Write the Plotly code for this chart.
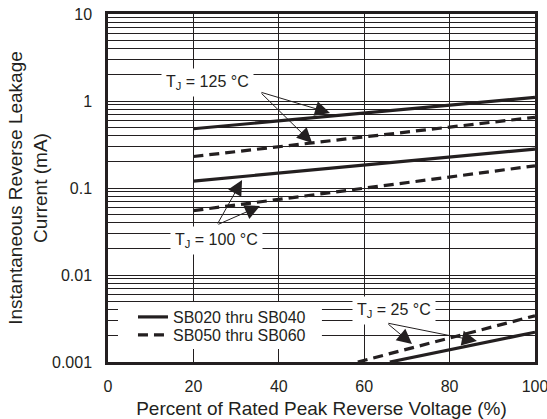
import math
import plotly.graph_objects as go

# ---- data ----
x_full = [20, 100]
i125_sb020_040 = [0.48, 1.10]
i125_sb050_060 = [0.23, 0.65]
i100_sb020_040 = [0.12, 0.28]
i100_sb050_060 = [0.055, 0.18]
x25_sb020_040 = [66, 100]
i25_sb020_040 = [0.001, 0.0022]
x25_sb050_060 = [58.5, 100]
i25_sb050_060 = [0.001, 0.0034]

x_ticks = [0, 20, 40, 60, 80, 100]
y_decades = [0.001, 0.01, 0.1, 1, 10]
y_decade_labels = ["0.001", "0.01", "0.1", "1", "10"]

legend_names = ["SB020 thru SB040", "SB050 thru SB060"]
temp_labels = ["T<sub>J</sub> = 125 °C", "T<sub>J</sub> = 100 °C", "T<sub>J</sub> = 25 °C"]

# ---- gridline ticks on log axis ----
y_tickvals, y_ticktext = [], []
for d, lab in zip(y_decades, y_decade_labels):
    y_tickvals.append(d)
    y_ticktext.append(lab)
    if d < 10:
        for m in range(2, 10):
            y_tickvals.append(d * m)
            y_ticktext.append("")

FONT = "Liberation Sans, Arial, Helvetica, sans-serif"
INK = "#231f20"
LW = 3.2
DASH = "10px,6px"

fig = go.Figure()
fig.add_trace(go.Scatter(x=x_full, y=i125_sb020_040, mode="lines", name=legend_names[0],
                         legend="legend", line=dict(color=INK, width=LW)))
fig.add_trace(go.Scatter(x=x_full, y=i125_sb050_060, mode="lines", name=legend_names[1],
                         legend="legend2", line=dict(color=INK, width=LW, dash=DASH)))
fig.add_trace(go.Scatter(x=x_full, y=i100_sb020_040, mode="lines", name=legend_names[0],
                         showlegend=False, line=dict(color=INK, width=LW)))
fig.add_trace(go.Scatter(x=x_full, y=i100_sb050_060, mode="lines", name=legend_names[1],
                         showlegend=False, line=dict(color=INK, width=LW, dash=DASH)))
fig.add_trace(go.Scatter(x=x25_sb020_040, y=i25_sb020_040, mode="lines", name=legend_names[0],
                         showlegend=False, line=dict(color=INK, width=LW)))
fig.add_trace(go.Scatter(x=x25_sb050_060, y=i25_sb050_060, mode="lines", name=legend_names[1],
                         showlegend=False, line=dict(color=INK, width=LW, dash=DASH)))

# ---- labels ----
labels = [
    (23.4, 1.65, temp_labels[0]),
    (25.3, 0.0252, temp_labels[1]),
    (67.0, 0.00396, temp_labels[2]),
]
for lx, ly, txt in labels:
    fig.add_annotation(x=lx, y=math.log10(ly), xref="x", yref="y", text=txt, showarrow=False,
                       font=dict(family=FONT, size=16, color=INK),
                       bgcolor="white", borderpad=4)

# arrows: (head_x, head_y, tail_x, tail_y)
arrows = [
    (52.0, 0.728, 35.6, 1.27),
    (47.8, 0.329, 35.6, 1.27),
    (31.4, 0.1236, 25.5, 0.0376),
    (35.6, 0.0621, 25.5, 0.0376),
    (71.2, 0.00161, 65.3, 0.00281),
    (86.4, 0.00174, 65.3, 0.00281),
]
for hx, hy, tx, ty in arrows:
    fig.add_annotation(x=hx, y=math.log10(hy), ax=tx, ay=math.log10(ty),
                       xref="x", yref="y", axref="x", ayref="y",
                       text="", showarrow=True, arrowhead=2, arrowsize=3,
                       arrowwidth=1, arrowcolor=INK)

# white panel behind the legend
fig.add_shape(type="rect", xref="paper", yref="paper", x0=0.0234, x1=0.501, y0=0.0374, y1=0.1724,
              fillcolor="white", line=dict(width=0), layer="above")

leg_common = dict(xanchor="left", yanchor="middle", bgcolor="rgba(0,0,0,0)", borderwidth=0,
                  font=dict(family=FONT, size=16, color=INK), itemwidth=30)

fig.update_layout(
    width=547, height=419,
    margin=dict(l=108, r=12, t=14, b=57, autoexpand=False),
    paper_bgcolor="white", plot_bgcolor="white",
    font=dict(family=FONT, size=16, color=INK),
    showlegend=True,
    legend=dict(x=0.0585, y=0.1293, **leg_common),
    legend2=dict(x=0.0585, y=0.0776, **leg_common),
)
fig.update_xaxes(range=[0, 100], tickvals=x_ticks, showgrid=True, gridcolor=INK, gridwidth=1,
                 showline=True, linecolor=INK, linewidth=2.5, mirror=True, ticks="",
                 ticklabelstandoff=8, ticklabeloverflow="allow", zeroline=False, automargin=False,
                 title=dict(text="Percent of Rated Peak Reverse Voltage (%)",
                            font=dict(size=19), standoff=9))
fig.update_yaxes(type="log", range=[-3, 1], tickvals=y_tickvals, ticktext=y_ticktext,
                 showgrid=True, gridcolor=INK, gridwidth=1,
                 showline=True, linecolor=INK, linewidth=2.5, mirror=True, ticks="",
                 ticklabelstandoff=10, ticklabeloverflow="allow", zeroline=False, automargin=False,
                 title=dict(text="Instantaneous Reverse Leakage<br>Current (mA)",
                            font=dict(size=19), standoff=0))

fig.write_html("out.html", config={"displayModeBar": False},
               post_script="document.body.style.margin='0px';document.body.style.overflow='hidden';")
